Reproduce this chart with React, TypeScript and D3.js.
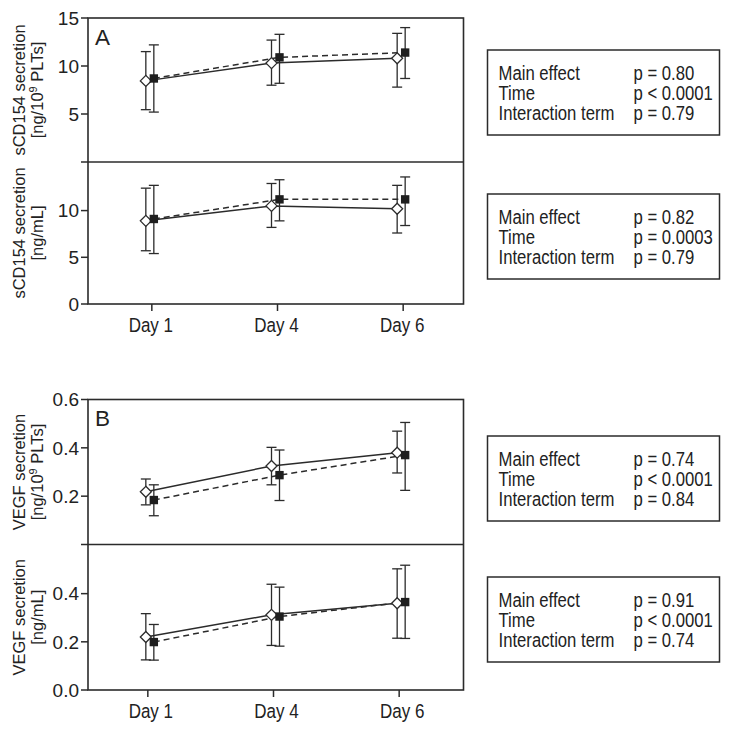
import React from "react";
import * as d3 from "d3";

// ---------- data ----------
const days = ["Day 1", "Day 4", "Day 6"];

// Panel A, top: sCD154 [ng/10^9 PLTs]
const a1OpenMean = [8.45, 10.3, 10.8];
const a1OpenLow = [5.45, 8.0, 7.8];
const a1OpenHigh = [11.5, 12.7, 13.4];
const a1FillMean = [8.7, 10.9, 11.4];
const a1FillLow = [5.2, 8.2, 8.7];
const a1FillHigh = [12.2, 13.3, 14.0];

// Panel A, bottom: sCD154 [ng/mL]
const a2OpenMean = [8.9, 10.5, 10.2];
const a2OpenLow = [5.7, 8.2, 7.6];
const a2OpenHigh = [12.4, 12.9, 12.7];
const a2FillMean = [9.1, 11.2, 11.2];
const a2FillLow = [5.4, 8.9, 8.4];
const a2FillHigh = [12.7, 13.3, 13.6];

// Panel B, top: VEGF [ng/10^9 PLTs]
const b1OpenMean = [0.218, 0.325, 0.38];
const b1OpenLow = [0.164, 0.247, 0.296];
const b1OpenHigh = [0.271, 0.402, 0.469];
const b1FillMean = [0.184, 0.287, 0.37];
const b1FillLow = [0.119, 0.182, 0.224];
const b1FillHigh = [0.247, 0.391, 0.505];

// Panel B, bottom: VEGF [ng/mL]
const b2OpenMean = [0.22, 0.312, 0.36];
const b2OpenLow = [0.125, 0.185, 0.215];
const b2OpenHigh = [0.317, 0.439, 0.503];
const b2FillMean = [0.199, 0.305, 0.365];
const b2FillLow = [0.124, 0.182, 0.214];
const b2FillHigh = [0.272, 0.427, 0.518];

// tick values
const a1Ticks = [0, 5, 10, 15];
const a1TickLabels = ["", "5", "10", "15"];
const a2Ticks = [0, 5, 10];
const a2TickLabels = ["0", "5", "10"];
const b1Ticks = [0, 0.2, 0.4, 0.6];
const b1TickLabels = ["", "0.2", "0.4", "0.6"];
const b2Ticks = [0, 0.2, 0.4];
const b2TickLabels = ["0.0", "0.2", "0.4"];

// statistics boxes
const statLabels = ["Main effect", "Time", "Interaction term"];
const pA1 = ["p = 0.80", "p < 0.0001", "p = 0.79"];
const pA2 = ["p = 0.82", "p = 0.0003", "p = 0.79"];
const pB1 = ["p = 0.74", "p < 0.0001", "p = 0.84"];
const pB2 = ["p = 0.91", "p < 0.0001", "p = 0.74"];

// ---------- layout ----------
const FONT = "'Liberation Sans', Arial, Helvetica, sans-serif";
const INK = "#222";
const LINE = "#2b2b2b";
const LEFT = 88;
const RIGHT = 463.5;
const OPEN_DX = -5;
const FILL_DX = 3;
const SY = 1.17; // vertical stretch of condensed-looking text

const x = d3.scalePoint<string>().domain(days).range([88, 465]).padding(0.5);

type Panel = {
  y: d3.ScaleLinear<number, number>;
  ticks: number[];
  tickLabels: string[];
  title1: string;
  title2: React.ReactNode;
  om: number[]; ol: number[]; oh: number[];
  fm: number[]; fl: number[]; fh: number[];
};

const perPlt = (
  <>
    [ng/10<tspan fontSize={11} dy={-6}>9</tspan>
    <tspan dy={6}> PLTs]</tspan>
  </>
);

const panels: Panel[] = [
  {
    y: d3.scaleLinear().domain([0, 15]).range([162, 18]),
    ticks: a1Ticks, tickLabels: a1TickLabels,
    title1: "sCD154 secretion", title2: perPlt,
    om: a1OpenMean, ol: a1OpenLow, oh: a1OpenHigh,
    fm: a1FillMean, fl: a1FillLow, fh: a1FillHigh,
  },
  {
    y: d3.scaleLinear().domain([0, 15.2]).range([304, 162]),
    ticks: a2Ticks, tickLabels: a2TickLabels,
    title1: "sCD154 secretion", title2: "[ng/mL]",
    om: a2OpenMean, ol: a2OpenLow, oh: a2OpenHigh,
    fm: a2FillMean, fl: a2FillLow, fh: a2FillHigh,
  },
  {
    y: d3.scaleLinear().domain([0, 0.6]).range([544.5, 399.5]),
    ticks: b1Ticks, tickLabels: b1TickLabels,
    title1: "VEGF secretion", title2: perPlt,
    om: b1OpenMean, ol: b1OpenLow, oh: b1OpenHigh,
    fm: b1FillMean, fl: b1FillLow, fh: b1FillHigh,
  },
  {
    y: d3.scaleLinear().domain([0, 0.604]).range([690, 544.5]),
    ticks: b2Ticks, tickLabels: b2TickLabels,
    title1: "VEGF secretion", title2: "[ng/mL]",
    om: b2OpenMean, ol: b2OpenLow, oh: b2OpenHigh,
    fm: b2FillMean, fl: b2FillLow, fh: b2FillHigh,
  },
];

const figures = [
  { letter: "A", top: 18, bottom: 304, tickDx: 1, panels: [panels[0], panels[1]] },
  { letter: "B", top: 399.5, bottom: 690, tickDx: -3, panels: [panels[2], panels[3]] },
];

const boxes = [
  { top: 50, p: pA1 },
  { top: 194, p: pA2 },
  { top: 436, p: pB1 },
  { top: 577, p: pB2 },
];

function StretchText({ x0, y0, children, anchor = "start", size = 16.7 }: any) {
  return (
    <text
      transform={`translate(${x0},${y0}) scale(1,${SY})`}
      fontFamily={FONT}
      fontSize={size}
      fill={INK}
      textAnchor={anchor}
    >
      {children}
    </text>
  );
}

function PanelMarks({ p }: { p: Panel }) {
  const { y } = p;
  const openPts = days.map((d, i) => [(x(d) as number) + OPEN_DX, y(p.om[i])] as [number, number]);
  const fillPts = days.map((d, i) => [(x(d) as number) + FILL_DX, y(p.fm[i])] as [number, number]);
  const line = d3.line<[number, number]>().x((d) => d[0]).y((d) => d[1]);
  const cap = 5;
  const diamond = "M0,-5.5L5.5,0L0,5.5L-5.5,0Z";
  return (
    <g>
      <path d={line(openPts) || ""} fill="none" stroke={LINE} strokeWidth={1.5} />
      <path d={line(fillPts) || ""} fill="none" stroke={LINE} strokeWidth={1.5} strokeDasharray="6,4" />
      {days.map((d, i) => {
        const xo = (x(d) as number) + OPEN_DX;
        const xf = (x(d) as number) + FILL_DX;
        return (
          <g key={d} stroke={LINE} strokeWidth={1.3}>
            <line x1={xo} x2={xo} y1={y(p.ol[i])} y2={y(p.oh[i])} />
            <line x1={xo - cap} x2={xo + cap} y1={y(p.ol[i])} y2={y(p.ol[i])} />
            <line x1={xo - cap} x2={xo + cap} y1={y(p.oh[i])} y2={y(p.oh[i])} />
            <line x1={xf} x2={xf} y1={y(p.fl[i])} y2={y(p.fh[i])} />
            <line x1={xf - cap} x2={xf + cap} y1={y(p.fl[i])} y2={y(p.fl[i])} />
            <line x1={xf - cap} x2={xf + cap} y1={y(p.fh[i])} y2={y(p.fh[i])} />
          </g>
        );
      })}
      {openPts.map((pt, i) => (
        <path key={"o" + i} d={diamond} transform={`translate(${pt[0]},${pt[1]})`} fill="#fff" stroke={LINE} strokeWidth={1.3} />
      ))}
      {fillPts.map((pt, i) => (
        <rect key={"f" + i} x={pt[0] - 4.2} y={pt[1] - 4.2} width={8.4} height={8.4} fill="#1e1e1e" />
      ))}
    </g>
  );
}

function PanelAxis({ p }: { p: Panel }) {
  const { y } = p;
  const [r0, r1] = y.range();
  const cy = (r0 + r1) / 2;
  return (
    <g>
      {p.ticks.map((t, i) => (
        <g key={i}>
          <line x1={LEFT - 7} x2={LEFT} y1={y(t)} y2={y(t)} stroke={LINE} strokeWidth={1.5} />
          {p.tickLabels[i] && (
            <text x={LEFT - 9} y={y(t)} dy="0.36em" textAnchor="end" fontFamily={FONT} fontSize={19} fill={INK}>
              {p.tickLabels[i]}
            </text>
          )}
        </g>
      ))}
      <text transform={`translate(25,${cy}) rotate(-90)`} textAnchor="middle" fontFamily={FONT} fontSize={16.5} fill={INK}>
        {p.title1}
      </text>
      <text transform={`translate(43,${cy}) rotate(-90)`} textAnchor="middle" fontFamily={FONT} fontSize={16.5} fill={INK}>
        {p.title2}
      </text>
    </g>
  );
}

export default function App() {
  return (
    <svg width={729} height={730} style={{ position: "absolute", left: 0, top: 0, background: "#fff" }}>
      <rect width={729} height={730} fill="#fff" />
      {figures.map((f) => {
        const divider = f.panels[0].y.range()[0];
        return (
          <g key={f.letter}>
            {f.panels.map((p, i) => (
              <PanelAxis key={i} p={p} />
            ))}
            {f.panels.map((p, i) => (
              <PanelMarks key={i} p={p} />
            ))}
            <rect x={LEFT} y={f.top} width={RIGHT - LEFT} height={f.bottom - f.top} fill="none" stroke={LINE} strokeWidth={1.6} />
            <line x1={LEFT} x2={RIGHT} y1={divider} y2={divider} stroke={LINE} strokeWidth={1.6} />
            {days.map((d) => (
              <g key={d}>
                <line x1={(x(d) as number) + f.tickDx} x2={(x(d) as number) + f.tickDx} y1={f.bottom} y2={f.bottom + 7} stroke={LINE} strokeWidth={1.5} />
                <StretchText x0={x(d) as number} y0={f.bottom + 28} anchor="middle" size={17}>
                  {d}
                </StretchText>
              </g>
            ))}
            <text x={95} y={f.top + 26.5} fontFamily={FONT} fontSize={22.5} fill={INK}>
              {f.letter}
            </text>
          </g>
        );
      })}
      {boxes.map((b, bi) => (
        <g key={bi}>
          <rect x={487.5} y={b.top} width={232} height={85} fill="none" stroke={LINE} strokeWidth={1.5} />
          {statLabels.map((s, i) => (
            <g key={i}>
              <StretchText x0={498.5} y0={b.top + 29.5 + i * 20}>{s}</StretchText>
              <StretchText x0={633.5} y0={b.top + 29.5 + i * 20}>{b.p[i]}</StretchText>
            </g>
          ))}
        </g>
      ))}
    </svg>
  );
}
